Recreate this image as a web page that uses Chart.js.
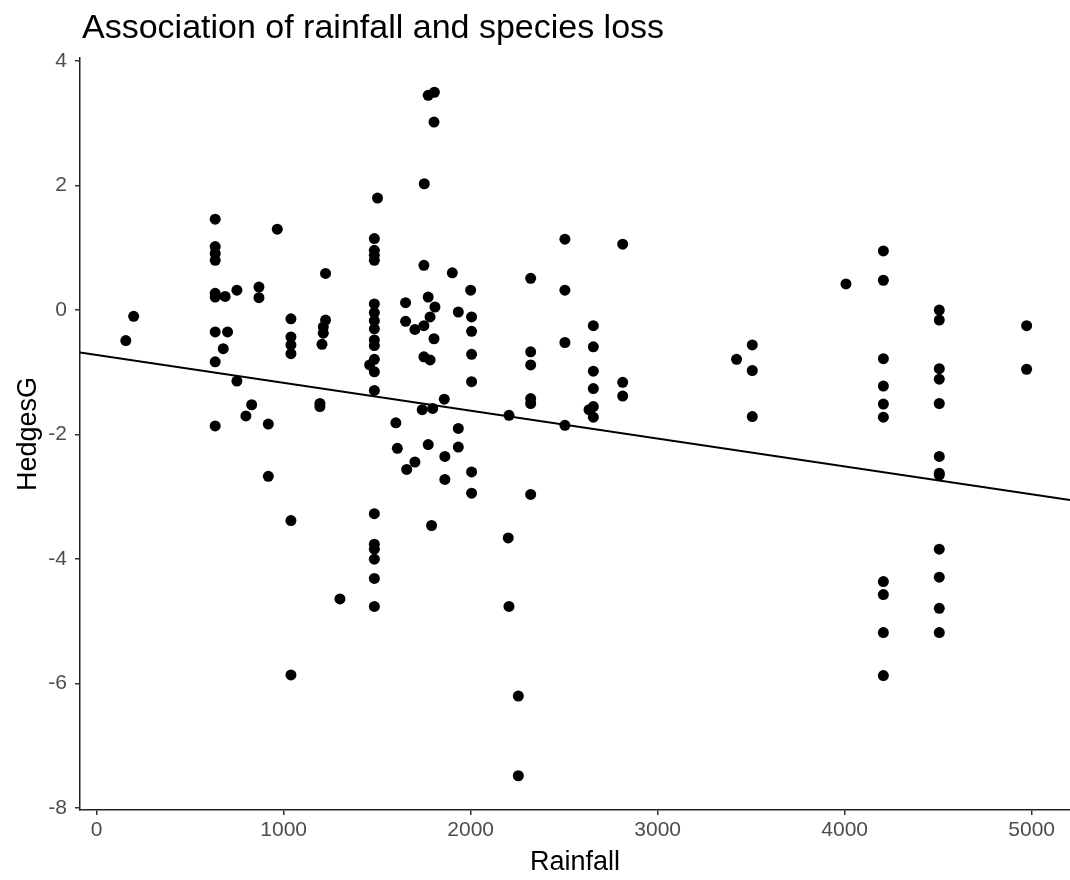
<!DOCTYPE html>
<html>
<head>
<meta charset="utf-8">
<script src="https://cdn.jsdelivr.net/npm/chart.js@4.4.1/dist/chart.umd.min.js"></script>
<style>
  html, body { margin: 0; padding: 0; background: #fff; }
</style>
</head>
<body>
<canvas id="chart" width="1070" height="880"></canvas>
<script>
// scatter of HedgesG vs rainfall with a fitted line, ggplot classic look

const titleText = 'Association of rainfall and species loss';
const xTicks = [0, 1000, 2000, 3000, 4000, 5000];
const yTicks = [-8, -6, -4, -2, 0, 2, 4];

// points, grouped roughly by rainfall band (same layout in both arrays)
const rainfall = [
  156, 198,
  634, 634, 634, 634, 634, 634, 634, 634, 634,
  687, 750, 700, 677, 750, 829, 798, 868, 868, 918, 918, 966,
  1039, 1039, 1039, 1039, 1039, 1039,
  1194, 1194, 1224, 1224, 1212, 1212, 1205, 1301,
  1502, 1485, 1485, 1485, 1485, 1485, 1485, 1485, 1485, 1485,
  1485, 1485, 1485, 1485, 1485, 1485, 1485, 1485, 1485, 1485, 1460,
  1600, 1608, 1652, 1652, 1658, 1702, 1702, 1741, 1750, 1750,
  1750, 1752, 1773, 1773, 1773, 1783, 1783, 1791, 1797, 1804,
  1804, 1806, 1809, 1859, 1862, 1862, 1902, 1934, 1934, 1934,
  2000, 2005, 2005, 2005, 2005, 2005, 2005,
  2201, 2205, 2205, 2255, 2255, 2321, 2321, 2321, 2321, 2321, 2321,
  2504, 2504, 2504, 2504, 2633, 2656, 2656, 2656, 2656, 2656, 2656,
  2813, 2813, 2813,
  3422, 3506, 3506, 3506, 4007,
  4207, 4207, 4207, 4207, 4207, 4207, 4207, 4207, 4207, 4207,
  4506, 4506, 4506, 4506, 4506, 4506, 4506, 4506, 4506, 4506, 4506, 4506,
  4973, 4973,
];

const hedgesG = [
  -0.49, -0.10,
  1.46, 1.02, 0.91, 0.80, 0.27, 0.21, -0.35, -0.83, -1.86,
  0.22, 0.32, -0.35, -0.62, -1.14, -1.52, -1.70, 0.37, 0.20, -1.83, -2.67, 1.30,
  -0.14, -0.43, -0.56, -0.70, -3.38, -5.86,
  -1.50, -1.55, 0.59, -0.16, -0.27, -0.37, -0.55, -4.64,
  1.80, 1.15, 0.96, 0.88, 0.80, 0.10, -0.04, -0.17, -0.30, -0.48,
  -0.57, -0.79, -0.99, -1.29, -3.27, -3.76, -3.84, -4.00, -4.31, -4.76, -0.88,
  -1.81, -2.22, 0.12, -0.18, -2.56, -0.31, -2.44, -1.60, 0.72, -0.25,
  -0.75, 2.03, 0.21, 3.45, -2.16, -0.11, -0.80, -3.46, -1.58, -0.46,
  3.02, 3.50, 0.05, -1.43, -2.35, -2.72, 0.60, -0.03, -1.90, -2.20,
  0.32, -0.11, -0.34, -0.71, -1.15, -2.60, -2.94,
  -3.66, -1.69, -4.76, -6.20, -7.48, 0.51, -0.67, -0.88, -1.42, -1.50, -2.96,
  1.14, 0.32, -0.52, -1.85, -1.60, -0.25, -0.59, -0.98, -1.26, -1.55, -1.72,
  1.06, -1.16, -1.38,
  -0.79, -0.56, -0.97, -1.71, 0.42,
  0.95, 0.48, -0.78, -1.22, -1.51, -1.72, -4.36, -4.57, -5.18, -5.87,
  0.00, -0.16, -0.94, -1.11, -1.50, -2.35, -2.62, -2.65, -3.84, -4.29, -4.79, -5.18,
  -0.25, -0.95,
];

// fitted line end points
const fitX = [-89, 5205];
const fitY = [-0.68, -3.05];

const FONT = '"Liberation Sans", Arial, Helvetica, sans-serif';

const points = rainfall.map((x, i) => ({ x, y: hedgesG[i] }));
const fitLine = fitX.map((x, i) => ({ x, y: fitY[i] }));

const titlePlugin = {
  id: 'plotTitle',
  afterDraw(chart) {
    const ctx = chart.ctx;
    ctx.save();
    ctx.font = '34px ' + FONT;
    ctx.fillStyle = '#000';
    ctx.textBaseline = 'alphabetic';
    ctx.textAlign = 'left';
    ctx.fillText(titleText, 82, 38);
    ctx.restore();
  },
};

new Chart(document.getElementById('chart').getContext('2d'), {
  type: 'scatter',
  data: {
    datasets: [
      {
        type: 'line', data: fitLine, borderColor: '#000', borderWidth: 2,
        pointRadius: 0, fill: false, tension: 0,
      },
      {
        data: points, backgroundColor: '#000', borderWidth: 0,
        pointRadius: 5.5, pointHoverRadius: 5.5,
      },
    ],
  },
  options: {
    responsive: false,
    animation: false,
    layout: { autoPadding: false, padding: { top: 58, right: 0, bottom: 0, left: 0 } },
    plugins: { legend: { display: false }, tooltip: { enabled: false } },
    scales: {
      x: {
        type: 'linear', min: -89, max: 5205,
        afterBuildTicks: (s) => { s.ticks = xTicks.map(v => ({ value: v })); },
        afterFit: (s) => { s.height = 70; s.paddingRight = 0; s.paddingLeft = 0; },
        grid: { drawOnChartArea: false, drawTicks: true, tickLength: 5, color: '#333', lineWidth: 1.5 },
        border: { color: '#222', width: 1.5 },
        ticks: { color: '#4d4d4d', font: { size: 21, family: FONT }, padding: 3, maxRotation: 0, callback: (v) => String(v) },
        title: { display: true, text: 'Rainfall', color: '#000', font: { size: 27, family: FONT }, padding: { top: 0, bottom: 1 } },
      },
      y: {
        type: 'linear', min: -8.03, max: 4.05,
        afterBuildTicks: (s) => { s.ticks = yTicks.map(v => ({ value: v })); },
        afterFit: (s) => { s.width = 80; },
        grid: { drawOnChartArea: false, drawTicks: true, tickLength: 5, color: '#333', lineWidth: 1.5 },
        border: { color: '#222', width: 1.5 },
        ticks: { color: '#4d4d4d', font: { size: 21, family: FONT }, padding: 8, callback: (v) => String(v) },
        title: { display: true, text: 'HedgesG', color: '#000', font: { size: 27, family: FONT }, padding: { top: 12, bottom: 0 } },
      },
    },
  },
  plugins: [titlePlugin],
});
</script>
</body>
</html>
